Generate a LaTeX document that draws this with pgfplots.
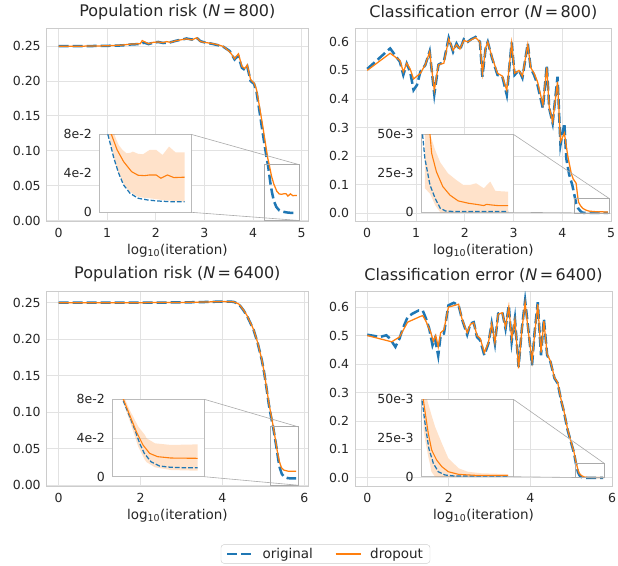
\documentclass[border=0pt]{standalone}
\usepackage{fontspec}
\setmainfont{DejaVu Sans}
\usepackage{pgfplots}
\usepackage{pgfplotstable}
\pgfplotsset{compat=1.18}
\definecolor{c0}{HTML}{1F77B4}
\definecolor{c1}{HTML}{FF7F0E}
\definecolor{gridc}{HTML}{E2E2E2}
\definecolor{spinec}{HTML}{CCCCCC}
\definecolor{txtc}{HTML}{262626}
\definecolor{insc}{HTML}{BBBBBB}
\definecolor{boxc}{HTML}{AAAAAA}

% ---------- data: population risk N=800 ----------
\pgfplotstableread{
x y
0 0.250
0.5 0.250
1.0 0.2505
1.3 0.251
1.5 0.2525
1.68 0.253
1.76 0.255
1.85 0.253
1.95 0.255
2.05 0.256
2.15 0.2545
2.22 0.255
2.3 0.2555
2.43 0.258
2.55 0.2595
2.63 0.261
2.74 0.2595
2.84 0.262
2.92 0.257
3.0 0.2555
3.18 0.253
3.3 0.251
3.39 0.249
3.52 0.243
3.62 0.231
3.66 0.234
3.7 0.235
3.77 0.219
3.83 0.216
3.88 0.221
3.95 0.200
4.02 0.196
4.07 0.185
4.14 0.153
4.2 0.125
4.26 0.098
4.31 0.078
4.353 0.0554
4.39 0.040
4.428 0.028
4.478 0.0195
4.54 0.0144
4.616 0.0126
4.69 0.0116
4.79 0.0109
4.9 0.0109
}\tlB
\pgfplotstableread{
x y
0 0.250
0.5 0.250
1.0 0.2505
1.3 0.2515
1.5 0.253
1.68 0.2535
1.72 0.258
1.76 0.2565
1.85 0.2535
1.95 0.2555
2.05 0.256
2.15 0.255
2.22 0.2565
2.3 0.2555
2.43 0.258
2.55 0.2595
2.63 0.2605
2.74 0.259
2.84 0.262
2.92 0.2565
3.0 0.2555
3.18 0.2535
3.3 0.2515
3.39 0.2495
3.52 0.242
3.62 0.232
3.66 0.236
3.7 0.239
3.77 0.221
3.83 0.218
3.88 0.223
3.95 0.202
4.02 0.197
4.07 0.188
4.14 0.160
4.2 0.135
4.26 0.108
4.3 0.090
4.335 0.0793
4.378 0.064
4.428 0.052
4.49 0.0417
4.54 0.038
4.59 0.0376
4.63 0.0383
4.68 0.0383
4.717 0.0349
4.767 0.0383
4.817 0.0356
4.9 0.036
}\tlO
% band: upper edge left to right, then lower edge right to left
\pgfplotstableread{
x y
4.30 0.100
4.33 0.090
4.37 0.075
4.39 0.069
4.42 0.064
4.45 0.0605
4.48 0.061
4.50 0.0622
4.54 0.0600
4.578 0.0595
4.63 0.064
4.68 0.064
4.73 0.0588
4.78 0.0674
4.83 0.0615
4.90 0.0615
4.90 0.0109
4.83 0.0116
4.78 0.012
4.73 0.0126
4.68 0.0135
4.63 0.0144
4.578 0.015
4.54 0.016
4.50 0.019
4.48 0.0212
4.45 0.025
4.42 0.0315
4.39 0.040
4.37 0.047
4.33 0.070
4.30 0.086
}\tlBand

% ---------- data: classification error N=800 ----------
\pgfplotstableread{
x y
0 0.505
0.47 0.577
0.67 0.53
0.74 0.484
0.81 0.524
0.88 0.495
0.95 0.431
1.02 0.449
1.09 0.495
1.19 0.519
1.28 0.567
1.375 0.416
1.46 0.52
1.57 0.53
1.67 0.614
1.76 0.565
1.83 0.594
1.9 0.571
1.98 0.609
2.06 0.6
2.13 0.609
2.22 0.617
2.31 0.6
2.36 0.478
2.43 0.582
2.47 0.6
2.56 0.542
2.67 0.484
2.77 0.478
2.86 0.414
2.96 0.598
3.02 0.484
3.11 0.501
3.18 0.474
3.29 0.594
3.35 0.507
3.42 0.484
3.49 0.449
3.6 0.367
3.68 0.519
3.73 0.367
3.8 0.315
3.9 0.478
3.96 0.239
4.04 0.315
4.08 0.19
4.14 0.134
4.2 0.10
4.25 0.06
4.28 0.0346
4.32 0.0175
4.36 0.009
4.40 0.0026
4.44 0.0009
4.5 0.0005
4.93 0.0005
}\trB
\pgfplotstableread{
x y
0 0.5
0.47 0.56
0.67 0.535
0.74 0.495
0.81 0.525
0.88 0.505
0.95 0.47
1.02 0.48
1.09 0.49
1.19 0.52
1.28 0.565
1.375 0.43
1.46 0.52
1.57 0.525
1.67 0.61
1.76 0.57
1.83 0.59
1.9 0.575
1.98 0.605
2.06 0.6
2.13 0.607
2.22 0.615
2.31 0.6
2.36 0.49
2.43 0.58
2.47 0.6
2.56 0.545
2.67 0.49
2.77 0.48
2.86 0.43
2.96 0.595
3.02 0.49
3.11 0.5
3.18 0.48
3.29 0.59
3.35 0.51
3.42 0.49
3.49 0.46
3.6 0.38
3.68 0.51
3.73 0.37
3.8 0.32
3.9 0.46
3.96 0.25
4.04 0.28
4.11 0.20
4.18 0.14
4.22 0.12
4.28 0.105
4.32 0.05
4.333 0.0378
4.37 0.026
4.42 0.0165
4.476 0.011
4.54 0.0073
4.62 0.0058
4.68 0.0051
4.74 0.0043
4.76 0.0051
4.8 0.0047
4.85 0.0043
4.93 0.0043
}\trO
\pgfplotstableread{
x y
4.28 0.09
4.32 0.05
4.36 0.040
4.40 0.032
4.46 0.025
4.52 0.021
4.58 0.0175
4.63 0.0175
4.68 0.0186
4.74 0.0154
4.79 0.0197
4.83 0.0137
4.93 0.0132
4.93 0
4.40 0
4.36 0.0047
4.32 0.012
4.28 0.0154
}\trBand

% ---------- data: population risk N=6400 ----------
\pgfplotstableread{
x y
0 0.25
1 0.25
2 0.25
3 0.2503
3.5 0.2508
4.0 0.2515
4.27 0.2512
4.4 0.248
4.51 0.240
4.6 0.232
4.76 0.213
4.86 0.195
4.96 0.172
5.02 0.154
5.08 0.132
5.13 0.112
5.18 0.096
5.24 0.0793
5.28 0.0655
5.33 0.0483
5.365 0.0345
5.4 0.0241
5.45 0.0155
5.515 0.011
5.6 0.0097
5.7 0.0093
5.8 0.0093
}\blB
\pgfplotstableread{
x y
0 0.25
1 0.25
2 0.25
3 0.2503
3.5 0.2508
4.0 0.2515
4.27 0.2512
4.4 0.2482
4.51 0.2405
4.6 0.2325
4.76 0.2135
4.86 0.1955
4.96 0.1725
5.02 0.1545
5.08 0.133
5.13 0.114
5.18 0.099
5.245 0.0793
5.29 0.0638
5.34 0.0466
5.39 0.0328
5.44 0.0241
5.5 0.0207
5.6 0.0193
5.8 0.019
}\blO
\pgfplotstableread{
x y
5.24 0.085
5.29 0.069
5.355 0.0517
5.405 0.043
5.4175 0.0397
5.48 0.0345
5.6 0.0328
5.8 0.0334
5.8 0.0062
5.6 0.0069
5.48 0.0097
5.4175 0.015
5.405 0.0172
5.355 0.031
5.29 0.058
5.24 0.0776
}\blBand

% ---------- data: classification error N=6400 ----------
\pgfplotstableread{
x y
0 0.503
0.31 0.495
0.47 0.501
0.55 0.49
0.69 0.46
0.79 0.489
0.87 0.524
0.99 0.565
1.11 0.577
1.26 0.588
1.36 0.588
1.44 0.56
1.52 0.524
1.6 0.466
1.66 0.49
1.74 0.429
1.8 0.501
1.88 0.507
1.99 0.606
2.12 0.615
2.24 0.606
2.32 0.559
2.45 0.503
2.53 0.542
2.61 0.547
2.69 0.495
2.77 0.483
2.87 0.431
2.97 0.472
3.05 0.542
3.13 0.472
3.21 0.577
3.31 0.583
3.39 0.524
3.47 0.606
3.54 0.478
3.62 0.56
3.71 0.39
3.79 0.524
3.87 0.623
3.96 0.507
4.04 0.396
4.1 0.507
4.18 0.617
4.26 0.431
4.33 0.559
4.41 0.431
4.49 0.408
4.59 0.35
4.67 0.332
4.75 0.274
4.83 0.227
4.91 0.169
4.99 0.128
5.07 0.087
5.11 0.055
5.141 0.0345
5.17 0.0183
5.205 0.0086
5.243 0.0032
5.295 0.0011
5.37 0.0004
5.78 0.0004
}\brB
\pgfplotstableread{
x y
0 0.5
0.6 0.478
0.79 0.495
0.99 0.547
1.3 0.567
1.36 0.57
1.44 0.55
1.56 0.51
1.62 0.48
1.68 0.5
1.74 0.46
1.8 0.51
1.88 0.52
1.99 0.6
2.12 0.605
2.24 0.61
2.32 0.56
2.45 0.51
2.53 0.54
2.61 0.545
2.69 0.5
2.77 0.49
2.87 0.44
2.97 0.475
3.05 0.54
3.13 0.475
3.21 0.575
3.31 0.58
3.39 0.53
3.47 0.6
3.54 0.49
3.62 0.555
3.71 0.385
3.79 0.52
3.87 0.615
3.96 0.5
4.04 0.41
4.1 0.5
4.18 0.61
4.26 0.44
4.33 0.55
4.41 0.435
4.49 0.41
4.59 0.352
4.67 0.335
4.75 0.276
4.83 0.23
4.91 0.172
4.99 0.13
5.07 0.09
5.11 0.06
5.141 0.042
5.166 0.028
5.192 0.0172
5.23 0.0108
5.27 0.0065
5.32 0.0032
5.4 0.0015
5.525 0.0009
5.78 0.0009
}\brO
\pgfplotstableread{
x y
5.13 0.060
5.141 0.055
5.166 0.047
5.18 0.043
5.19 0.040
5.218 0.0323
5.27 0.0216
5.32 0.0119
5.4 0.0054
5.47 0.0032
5.575 0.0022
5.78 0.0017
5.78 0
5.218 0
5.19 0.0032
5.18 0.008
5.166 0.0129
5.141 0.0241
5.13 0.030
}\brBand

\pgfplotsset{
  sb/.style={
    scale only axis, anchor=south west,
    scaled ticks=false,
    axis line style={draw=spinec, line width=1pt},
    grid=major, major grid style={draw=gridc, line width=0.8pt},
    major tick length=0pt, tick style={draw=none},
    tick label style={font=\fontsize{12.5}{14}\selectfont, text=txtc},
    xticklabel style={yshift=-3pt},
    yticklabel style={xshift=-2.5pt},
    label style={font=\fontsize{13.5}{15}\selectfont, text=txtc},
    title style={font=\fontsize{16}{18}\selectfont, text=txtc, yshift=0pt},
    axis background/.style={fill=white},
    xlabel={log\textsubscript{10}(iteration)},
  },
  ins/.style={
    scale only axis, anchor=south west,
    scaled ticks=false,
    axis line style={draw=insc, line width=0.9pt},
    xtick=\empty, major tick length=0pt, tick style={draw=none},
    tick label style={font=\fontsize{12.5}{14}\selectfont, text=txtc},
    yticklabel style={xshift=-4pt},
    axis background/.style={fill=white},
  },
  orig/.style={c0, line width=2.5pt, dash pattern=on 10pt off 4pt},
  origi/.style={c0, line width=1.25pt, dash pattern=on 4.6pt off 2pt},
  drop/.style={c1, line width=1.25pt},
  band/.style={fill=c1, fill opacity=0.22, draw=none},
}

\begin{document}
\begin{tikzpicture}
\useasboundingbox (0pt,0pt) rectangle (618pt,565pt);

% ===== top left =====
\begin{axis}[sb, at={(46.7pt,343.3pt)}, width=261.3pt, height=192.7pt,
  xmin=-0.245, xmax=5.13, ymin=-0.0017, ymax=0.2746,
  xtick={0,1,2,3,4,5}, xticklabels={0,1,2,3,4,5},
  ytick={0,0.05,0.1,0.15,0.2,0.25}, yticklabels={0.00,0.05,0.10,0.15,0.20,0.25},
  title={Population risk ({\itshape N}\hspace{0.15em}=\hspace{0.15em}800)}]
\addplot[orig] table[x=x,y=y] {\tlB};
\addplot[drop] table[x=x,y=y] {\tlO};
\draw[boxc, line width=0.8pt] (axis cs:4.24,0) rectangle (axis cs:4.95,0.08);
\coordinate (tlb1) at (axis cs:4.95,0.08);
\coordinate (tlb2) at (axis cs:4.95,0);
\end{axis}
\begin{axis}[ins, at={(99.3pt,352.7pt)}, width=91.7pt, height=78pt,
  xmin=4.24, xmax=4.95, ymin=0, ymax=0.08,
  ytick={0,0.04,0.08}, yticklabels={0,4e-2,8e-2}]
\addplot[band] table[x=x,y=y] {\tlBand} -- cycle;
\addplot[origi] table[x=x,y=y] {\tlB};
\addplot[drop, line width=1.1pt] table[x=x,y=y] {\tlO};
\coordinate (tli1) at (axis cs:4.95,0.08);
\coordinate (tli2) at (axis cs:4.95,0);
\end{axis}
\draw[boxc, line width=0.6pt] (tli1) -- (tlb1) (tli2) -- (tlb2);

% ===== top right =====
\begin{axis}[sb, at={(355pt,343.3pt)}, width=256.7pt, height=192.7pt,
  xmin=-0.25, xmax=5.01, ymin=-0.03, ymax=0.645,
  xtick={0,1,2,3,4,5}, xticklabels={0,1,2,3,4,5},
  ytick={0,0.1,0.2,0.3,0.4,0.5,0.6}, yticklabels={0.0,0.1,0.2,0.3,0.4,0.5,0.6},
  title={Classification error ({\itshape N}\hspace{0.15em}=\hspace{0.15em}800)}]
\addplot[orig] table[x=x,y=y] {\trB};
\addplot[drop] table[x=x,y=y] {\trO};
\draw[boxc, line width=0.8pt] (axis cs:4.25,0) rectangle (axis cs:4.97,0.05);
\coordinate (trb1) at (axis cs:4.97,0.05);
\coordinate (trb2) at (axis cs:4.97,0);
\end{axis}
\begin{axis}[ins, at={(421pt,352.7pt)}, width=92.3pt, height=78pt,
  xmin=4.25, xmax=4.97, ymin=0, ymax=0.05,
  ytick={0,0.025,0.05}, yticklabels={0,25e-3,50e-3}]
\addplot[band] table[x=x,y=y] {\trBand} -- cycle;
\addplot[origi] table[x=x,y=y] {\trB};
\addplot[drop, line width=1.1pt] table[x=x,y=y] {\trO};
\coordinate (tri1) at (axis cs:4.97,0.05);
\coordinate (tri2) at (axis cs:4.97,0);
\end{axis}
\draw[boxc, line width=0.6pt] (tri1) -- (trb1) (tri2) -- (trb2);

% ===== bottom left =====
\begin{axis}[sb, at={(46.7pt,78.3pt)}, width=261.3pt, height=195pt,
  xmin=-0.29, xmax=6.09, ymin=-0.002, ymax=0.265,
  xtick={0,2,4,6}, xticklabels={0,2,4,6},
  ytick={0,0.05,0.1,0.15,0.2,0.25}, yticklabels={0.00,0.05,0.10,0.15,0.20,0.25},
  title={Population risk ({\itshape N}\hspace{0.15em}=\hspace{0.15em}6400)},
  legend columns=2,
  legend style={at={(1.067,-0.345)}, anchor=center, draw=spinec, rounded corners=3pt,
    fill=white, font=\fontsize{13.5}{15}\selectfont, text=txtc, inner xsep=5pt, inner ysep=1.5pt,
    /tikz/every odd column/.append style={column sep=7pt},
    /tikz/every even column/.append style={column sep=20pt}},
  legend image code/.code={\draw[#1] (0pt,0pt) -- (25pt,0pt);}]
\addplot[orig] table[x=x,y=y] {\blB};
\addlegendentry{original}
\addplot[drop] table[x=x,y=y] {\blO};
\addlegendentry{dropout}
\draw[boxc, line width=0.8pt] (axis cs:5.16,0) rectangle (axis cs:5.85,0.08);
\coordinate (blb1) at (axis cs:5.85,0.08);
\coordinate (blb2) at (axis cs:5.85,0);
\end{axis}
\begin{axis}[ins, at={(112.3pt,88.3pt)}, width=92pt, height=77.4pt,
  xmin=5.16, xmax=5.85, ymin=0, ymax=0.08,
  ytick={0,0.04,0.08}, yticklabels={0,4e-2,8e-2},
  ymajorgrids, major grid style={draw=gridc, line width=0.8pt}]
\addplot[band] table[x=x,y=y] {\blBand} -- cycle;
\addplot[origi] table[x=x,y=y] {\blB};
\addplot[drop, line width=1.1pt] table[x=x,y=y] {\blO};
\coordinate (bli1) at (axis cs:5.85,0.08);
\coordinate (bli2) at (axis cs:5.85,0);
\end{axis}
\draw[boxc, line width=0.6pt] (bli1) -- (blb1) (bli2) -- (blb2);

% ===== bottom right =====
\begin{axis}[sb, at={(355pt,78.3pt)}, width=257pt, height=195pt,
  xmin=-0.3, xmax=6.0, ymin=-0.031, ymax=0.654,
  xtick={0,2,4,6}, xticklabels={0,2,4,6},
  ytick={0,0.1,0.2,0.3,0.4,0.5,0.6}, yticklabels={0.0,0.1,0.2,0.3,0.4,0.5,0.6},
  title={Classification error ({\itshape N}\hspace{0.15em}=\hspace{0.15em}6400)}]
\addplot[orig] table[x=x,y=y] {\brB};
\addplot[drop] table[x=x,y=y] {\brO};
\draw[boxc, line width=0.8pt] (axis cs:5.11,0) rectangle (axis cs:5.82,0.05);
\coordinate (brb1) at (axis cs:5.82,0.05);
\coordinate (brb2) at (axis cs:5.82,0);
\end{axis}
\begin{axis}[ins, at={(421pt,88.3pt)}, width=92.3pt, height=77.4pt,
  xmin=5.11, xmax=5.82, ymin=0, ymax=0.05,
  ytick={0,0.025,0.05}, yticklabels={0,25e-3,50e-3}]
\addplot[band] table[x=x,y=y] {\brBand} -- cycle;
\addplot[origi] table[x=x,y=y] {\brB};
\addplot[drop, line width=1.1pt] table[x=x,y=y] {\brO};
\coordinate (bri1) at (axis cs:5.82,0.05);
\coordinate (bri2) at (axis cs:5.82,0);
\end{axis}
\draw[boxc, line width=0.6pt] (bri1) -- (brb1) (bri2) -- (brb2);

\end{tikzpicture}
\end{document}
